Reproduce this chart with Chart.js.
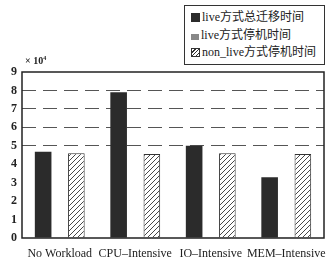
<!DOCTYPE html>
<html>
<head>
<meta charset="utf-8">
<script src="https://cdn.jsdelivr.net/npm/chart.js@4"></script>
<style>
  html,body{margin:0;padding:0;background:#fff;}
  #wrap{position:relative;width:333px;height:257px;}
  #legend{position:absolute;left:184px;top:5px;width:139px;height:55px;border:1.5px solid #333;background:#fff;
    font-family:"Liberation Serif","DejaVu Serif","Noto Sans CJK SC",serif;font-size:12px;color:#222;padding-top:3px;box-sizing:content-box;}
  .row{height:17.5px;line-height:17.5px;white-space:nowrap;padding-left:6px;}
  .sw{display:inline-block;width:9px;height:9px;vertical-align:-1px;margin-right:2px;box-sizing:border-box;}
  #exp{position:absolute;left:25px;top:55px;font-family:"Liberation Serif",serif;font-size:10px;font-weight:bold;color:#222;}
</style>
</head>
<body>
<div id="wrap">
  <canvas id="c" width="333" height="257"></canvas>
  <div id="exp">× 10<sup style="font-size:6px">4</sup></div>
  <div id="legend"></div>
</div>
<script>
const categories = ["No Workload", "CPU\u2013Intensive", "IO\u2013Intensive", "MEM\u2013Intensive"];
const seriesNames = ["live方式总迁移时间", "live方式停机时间", "non_live方式停机时间"];
const liveTotal = [4.67, 7.9, 5.0, 3.3];
const liveDowntime = [0.02, 0.03, 0.02, 0.02];
const nonLiveDowntime = [4.6, 4.55, 4.6, 4.55];
const yTicks = [0, 1, 2, 3, 4, 5, 6, 7, 8, 9];

function hatch() {
  const s = 5, p = document.createElement('canvas');
  p.width = s; p.height = s;
  const g = p.getContext('2d');
  g.fillStyle = '#fff'; g.fillRect(0, 0, s, s);
  g.strokeStyle = '#333'; g.lineWidth = 0.9;
  g.beginPath();
  g.moveTo(0, s); g.lineTo(s, 0);
  g.moveTo(-1, 1); g.lineTo(1, -1);
  g.moveTo(s - 1, s + 1); g.lineTo(s + 1, s - 1);
  g.stroke();
  return document.getElementById('c').getContext('2d').createPattern(p, 'repeat');
}

const frame = {
  id: 'frame',
  afterDraw(chart) {
    const a = chart.chartArea, ctx = chart.ctx;
    ctx.save();
    ctx.strokeStyle = '#222'; ctx.lineWidth = 1.5;
    ctx.strokeRect(a.left, a.top, a.right - a.left, a.bottom - a.top);
    ctx.restore();
  }
};

const serif = '"Liberation Serif","DejaVu Serif",serif';
const chart = new Chart(document.getElementById('c'), {
  type: 'bar',
  data: {
    labels: categories,
    datasets: [
      { label: seriesNames[0], data: liveTotal, backgroundColor: '#2b2b2b', borderColor: '#2b2b2b', borderWidth: 0 },
      { label: seriesNames[1], data: liveDowntime, backgroundColor: '#777', borderWidth: 0 },
      { label: seriesNames[2], data: nonLiveDowntime, backgroundColor: hatch(), borderColor: '#333', borderWidth: 1 }
    ]
  },
  options: {
    responsive: false,
    animation: false,
    layout: { padding: { top: 72, left: 2, right: 9, bottom: 0 } },
    plugins: { legend: { display: false }, tooltip: { enabled: false } },
    datasets: { bar: { categoryPercentage: 0.66, barPercentage: 1.0 } },
    scales: {
      x: {
        grid: { display: false },
        border: { display: false },
        ticks: { font: { family: serif, size: 12 }, color: '#222', padding: 1, maxRotation: 0, autoSkip: false },
        afterFit(s) { s.height = 19; }
      },
      y: {
        min: 0, max: 9,
        afterBuildTicks(s) { s.ticks = yTicks.map(v => ({ value: v })); },
        ticks: { font: { family: serif, size: 12, weight: 'bold' }, color: '#222', padding: 5 },
        grid: {
          drawTicks: false,
          color: c => (c.tick && c.tick.value >= 5 && c.tick.value <= 8) ? '#555' : 'rgba(0,0,0,0)',
          lineWidth: 1
        },
        border: { display: false, dash: [14, 7] },
        afterFit(s) { s.width = 20; }
      }
    }
  },
  plugins: [frame]
});

// HTML legend built from the dataset labels
const leg = document.getElementById('legend');
const swatches = [
  'background:#2b2b2b;',
  'background:#888;width:8px;height:6px;',
  'border:1px solid #333;background:repeating-linear-gradient(-45deg,#fff 0 1.8px,#333 1.8px 2.6px);'
];
seriesNames.forEach((n, i) => {
  const r = document.createElement('div');
  r.className = 'row';
  r.innerHTML = '<span class="sw" style="' + swatches[i] + '"></span>' + n;
  leg.appendChild(r);
});
</script>
</body>
</html>
